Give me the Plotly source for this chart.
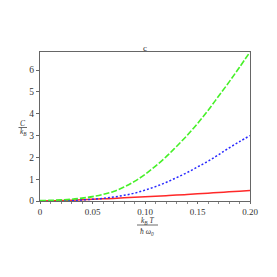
import plotly.graph_objects as go

x_vals = [0.00, 0.01, 0.02, 0.03, 0.04, 0.05, 0.06, 0.07, 0.08, 0.09, 0.10,
          0.11, 0.12, 0.13, 0.14, 0.15, 0.16, 0.17, 0.18, 0.19, 0.20]
green_vals = [0.02, 0.03, 0.05, 0.08, 0.13, 0.20, 0.30, 0.44, 0.64, 0.90, 1.22,
              1.60, 2.02, 2.50, 3.00, 3.55, 4.15, 4.80, 5.45, 6.13, 6.83]
blue_vals = [0.01, 0.01, 0.02, 0.03, 0.05, 0.08, 0.12, 0.18, 0.26, 0.36, 0.50,
             0.66, 0.85, 1.07, 1.30, 1.56, 1.82, 2.12, 2.43, 2.72, 3.00]
red_vals = [0.00, 0.01, 0.02, 0.04, 0.06, 0.08, 0.10, 0.12, 0.145, 0.17, 0.195,
            0.22, 0.245, 0.27, 0.30, 0.33, 0.36, 0.39, 0.42, 0.45, 0.48]

x_ticks = [0, 0.05, 0.10, 0.15, 0.20]
x_tick_text = ["0", "0.05", "0.10", "0.15", "0.20"]
y_ticks = [0, 1, 2, 3, 4, 5, 6]

font = "Liberation Serif"

# page offset from default body margin
OFF = 8
FW, FH = 261, 261
L, R, T, B = 40 - OFF, FW - (250 - OFF), 52 - OFF, FH - (201 - OFF)
W = FW - L - R
H = FH - T - B


def px(page_x):
    return (page_x - OFF - L) / W


def py(page_y):
    return (FH - (page_y - OFF) - B) / H


fig = go.Figure()
fig.add_trace(go.Scatter(x=x_vals, y=red_vals, mode="lines",
                         line=dict(color="rgb(255,40,40)", width=1.5, shape="spline")))
fig.add_trace(go.Scatter(x=x_vals, y=blue_vals, mode="lines",
                         line=dict(color="rgb(40,40,255)", width=1.5, dash="2px,2px", shape="spline")))
fig.add_trace(go.Scatter(x=x_vals, y=green_vals, mode="lines",
                         line=dict(color="rgb(70,240,40)", width=1.6, dash="6px,2px", shape="spline")))

fig.update_layout(
    width=FW, height=FH,
    margin=dict(l=L, r=R, t=T, b=B),
    paper_bgcolor="white", plot_bgcolor="white",
    showlegend=False,
    font=dict(family=font, size=10, color="#333"),
    title=dict(text="c", x=0.5, xref="paper", xanchor="center", y=1, yref="paper", yanchor="bottom",
               pad=dict(b=1), font=dict(family=font, size=9, color="#333")),
)
fig.update_xaxes(range=[0, 0.2], tickvals=x_ticks, ticktext=x_tick_text, ticks="outside", ticklen=2,
                 tickcolor="#666", showline=True, linecolor="#666", linewidth=1, mirror=True,
                 showgrid=False, zeroline=False, tickfont=dict(family=font, size=9, color="#333"),
                 minor=dict(ticks="outside", ticklen=2, tickcolor="#888", dtick=0.01))
fig.update_yaxes(range=[0, 6.83], tickvals=y_ticks, ticks="outside", ticklen=3,
                 tickcolor="#666", showline=True, linecolor="#666", linewidth=1, mirror=True,
                 showgrid=False, zeroline=False, tickfont=dict(family=font, size=9.5, color="#333"))

ann_font = dict(family=font, size=7.5, color="#333")
common = dict(xref="paper", yref="paper", showarrow=False, font=ann_font, xanchor="center", borderpad=0)
fig.add_annotation(text="<i>C</i>", x=px(23), y=py(123.5), yanchor="middle", **common)
fig.add_annotation(text="<i>k<sub>B</sub></i>", x=px(23), y=py(132), yanchor="middle", **common)
fig.add_annotation(text="<i>k<sub>B</sub> T</i>", x=px(147), y=py(226.5), yanchor="bottom", **common)
fig.add_annotation(text="<i>ħ ω<sub>0</sub></i>", x=px(147), y=py(225.5), yanchor="top", **common)

fig.add_shape(type="line", xref="paper", yref="paper",
              x0=px(137), x1=px(158), y0=py(225), y1=py(225),
              line=dict(color="#444", width=0.8))
fig.add_shape(type="line", xref="paper", yref="paper",
              x0=px(18.5), x1=px(27), y0=py(127.5), y1=py(127.5),
              line=dict(color="#444", width=0.8))

fig.write_html("out.html")
